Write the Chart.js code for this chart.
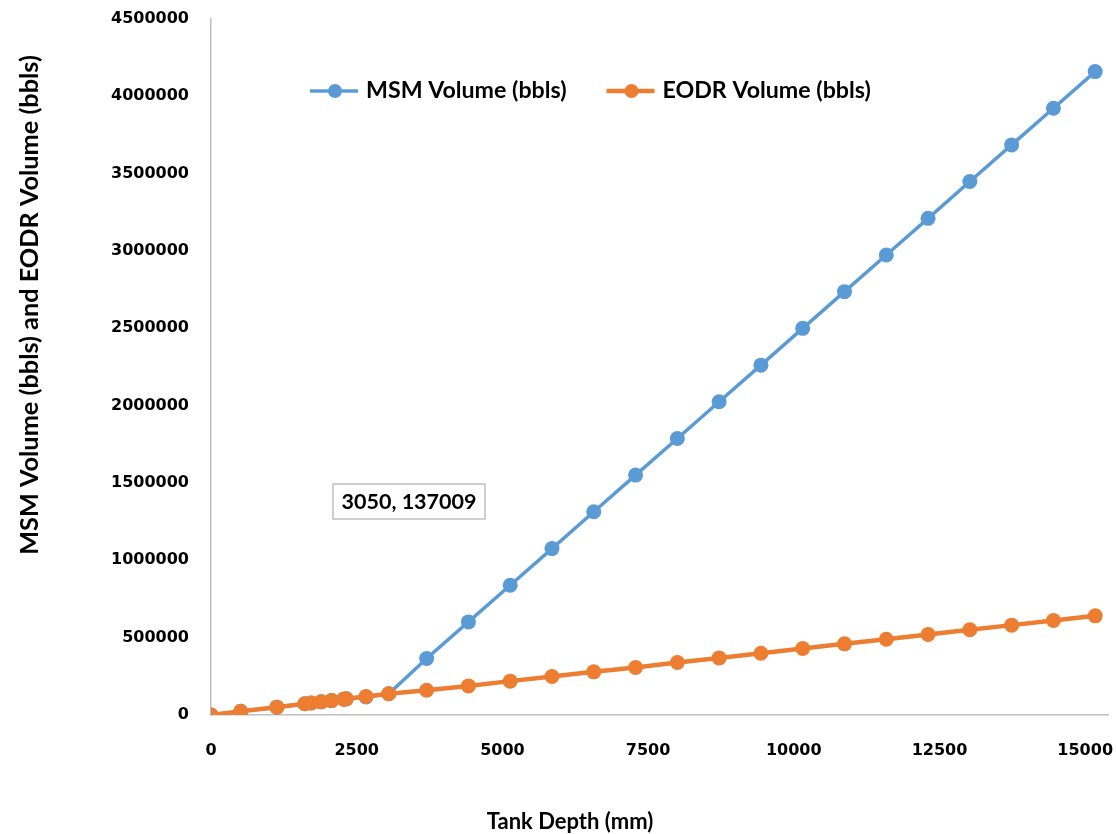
<!DOCTYPE html>
<html>
<head>
<meta charset="utf-8">
<script src="https://cdn.jsdelivr.net/npm/chart.js@4.4.1/dist/chart.umd.min.js"></script>
<style>
    html, body { margin: 0; padding: 0; background: #ffffff; }
    #wrap { width: 1116px; height: 834px; position: relative; }
</style>
</head>
<body>
<div id="wrap"><canvas id="volumeChart"></canvas></div>
<script>
// Tank depth readings (mm)
const depthMm = [0, 510, 1130, 1610, 1720, 1890, 2070, 2280, 2320, 2660, 3050,
    3700, 4417, 5134, 5851, 6568, 7285, 8002, 8719, 9436, 10153,
    10870, 11587, 12304, 13021, 13738, 14455, 15172];

// Volumes (bbls)
const msmVolume = [0, 24000, 50800, 72400, 77400, 85000, 93000, 102600, 104400, 116000, 137009,
    365000, 602000, 839000, 1076000, 1314000, 1551000, 1788000, 2025000, 2262000, 2500000,
    2737000, 2974000, 3211000, 3449000, 3686000, 3923000, 4160000];
const eodrVolume = [0, 24000, 50800, 72400, 77400, 85000, 93000, 102600, 104400, 119700, 137009,
    160000, 188000, 219000, 249000, 279000, 307000, 339000, 369000, 399000, 430000,
    460000, 490000, 521000, 551000, 581000, 611000, 641000];

const xTickValues = [0, 2500, 5000, 7500, 10000, 12500, 15000];
const yTickValues = [0, 500000, 1000000, 1500000, 2000000, 2500000, 3000000, 3500000, 4000000, 4500000];

const seriesLabels = ['MSM Volume (bbls)', 'EODR Volume (bbls)'];
const xTitle = 'Tank Depth (mm)';
const yTitle = 'MSM Volume (bbls) and EODR Volume (bbls)';
const calloutText = '3050, 137009';

const blue = '#5b9bd5';
const orange = '#ed7d31';
const axisGrey = '#bfbfbf';
const labelFont = "'Lato', 'Open Sans', sans-serif";
const tickFont = { family: "'DejaVu Sans', sans-serif", size: 16, weight: 'bold' };

const toPoints = (ys) => depthMm.map((d, i) => ({ x: d, y: ys[i] }));

// Draws legend, axis titles and the data callout in Excel-like positions
const decorations = {
    id: 'decorations',
    afterDraw(chart) {
        const ctx = chart.ctx;
        const area = chart.chartArea;
        ctx.save();
        ctx.fillStyle = '#000';
        ctx.textBaseline = 'middle';

        // legend inside the plot
        ctx.font = `bold 23.2px ${labelFont}`;
        let lx = area.left + 99;
        const ly = area.top + 72;
        chart.data.datasets.forEach((ds) => {
            ctx.strokeStyle = ds.borderColor;
            ctx.lineWidth = ds.borderWidth;
            ctx.beginPath();
            ctx.moveTo(lx, ly);
            ctx.lineTo(lx + 48, ly);
            ctx.stroke();
            ctx.fillStyle = ds.backgroundColor;
            ctx.beginPath();
            ctx.arc(lx + 25, ly, 7, 0, Math.PI * 2);
            ctx.fill();
            ctx.fillStyle = '#000';
            ctx.textAlign = 'left';
            ctx.fillText(ds.label, lx + 56, ly);
            lx += 56 + ctx.measureText(ds.label).width + 40;
        });

        // axis titles
        ctx.font = `bold 22px ${labelFont}`;
        ctx.textAlign = 'center';
        ctx.fillText(xTitle, 570, 822);
        ctx.save();
        ctx.font = `bold 25.3px ${labelFont}`;
        ctx.translate(30, 305);
        ctx.rotate(-Math.PI / 2);
        ctx.fillText(yTitle, 0, 0);
        ctx.restore();

        // data callout box
        ctx.font = `bold 21.5px ${labelFont}`;
        const tw = ctx.measureText(calloutText).width;
        const bx = area.left + 122, by = area.top + 465;
        const bw = tw + 17, bh = 35;
        ctx.fillStyle = '#fff';
        ctx.fillRect(bx, by, bw, bh);
        ctx.strokeStyle = axisGrey;
        ctx.lineWidth = 1.5;
        ctx.strokeRect(bx, by, bw, bh);
        ctx.fillStyle = '#000';
        ctx.fillText(calloutText, bx + bw / 2, by + bh / 2 + 1);
        ctx.restore();
    }
};

const ctx = document.getElementById('volumeChart').getContext('2d');
const volumeChart = new Chart(ctx, {
    type: 'line',
    data: {
        datasets: [{
            label: seriesLabels[0],
            data: toPoints(msmVolume),
            borderColor: blue,
            backgroundColor: blue,
            borderWidth: 3.5,
            pointRadius: 7.5,
            pointBorderWidth: 0,
            tension: 0,
            order: 2
        }, {
            label: seriesLabels[1],
            data: toPoints(eodrVolume),
            borderColor: orange,
            backgroundColor: orange,
            borderWidth: 4.5,
            pointRadius: 7.5,
            pointBorderWidth: 0,
            tension: 0,
            order: 1
        }]
    },
    options: {
        responsive: true,
        maintainAspectRatio: false,
        animation: false,
        layout: { padding: { top: 19, right: 6, bottom: 0, left: 0 } },
        plugins: {
            legend: { display: false },
            tooltip: { enabled: false }
        },
        scales: {
            x: {
                type: 'linear',
                min: 0,
                max: 15400,
                afterBuildTicks: (scale) => {
                    scale.ticks = xTickValues.map(v => ({ value: v }));
                },
                afterFit: (scale) => {
                    scale.height = 119;
                    scale.paddingLeft = 0;
                    scale.paddingRight = 0;
                },
                grid: { display: false },
                border: { display: true, color: axisGrey, width: 1.5 },
                ticks: { color: '#000', font: tickFont, padding: 18, maxRotation: 0, callback: (v) => String(v) }
            },
            y: {
                min: 0,
                max: 4500000,
                afterBuildTicks: (scale) => {
                    scale.ticks = yTickValues.map(v => ({ value: v }));
                },
                afterFit: (scale) => {
                    scale.width = 211;
                    scale.paddingTop = 0;
                    scale.paddingBottom = 0;
                },
                grid: { display: false },
                border: { display: true, color: axisGrey, width: 1.5 },
                ticks: { color: '#000', font: tickFont, padding: 14, callback: (v) => String(v) }
            }
        }
    },
    plugins: [decorations]
});
</script>
</body>
</html>
